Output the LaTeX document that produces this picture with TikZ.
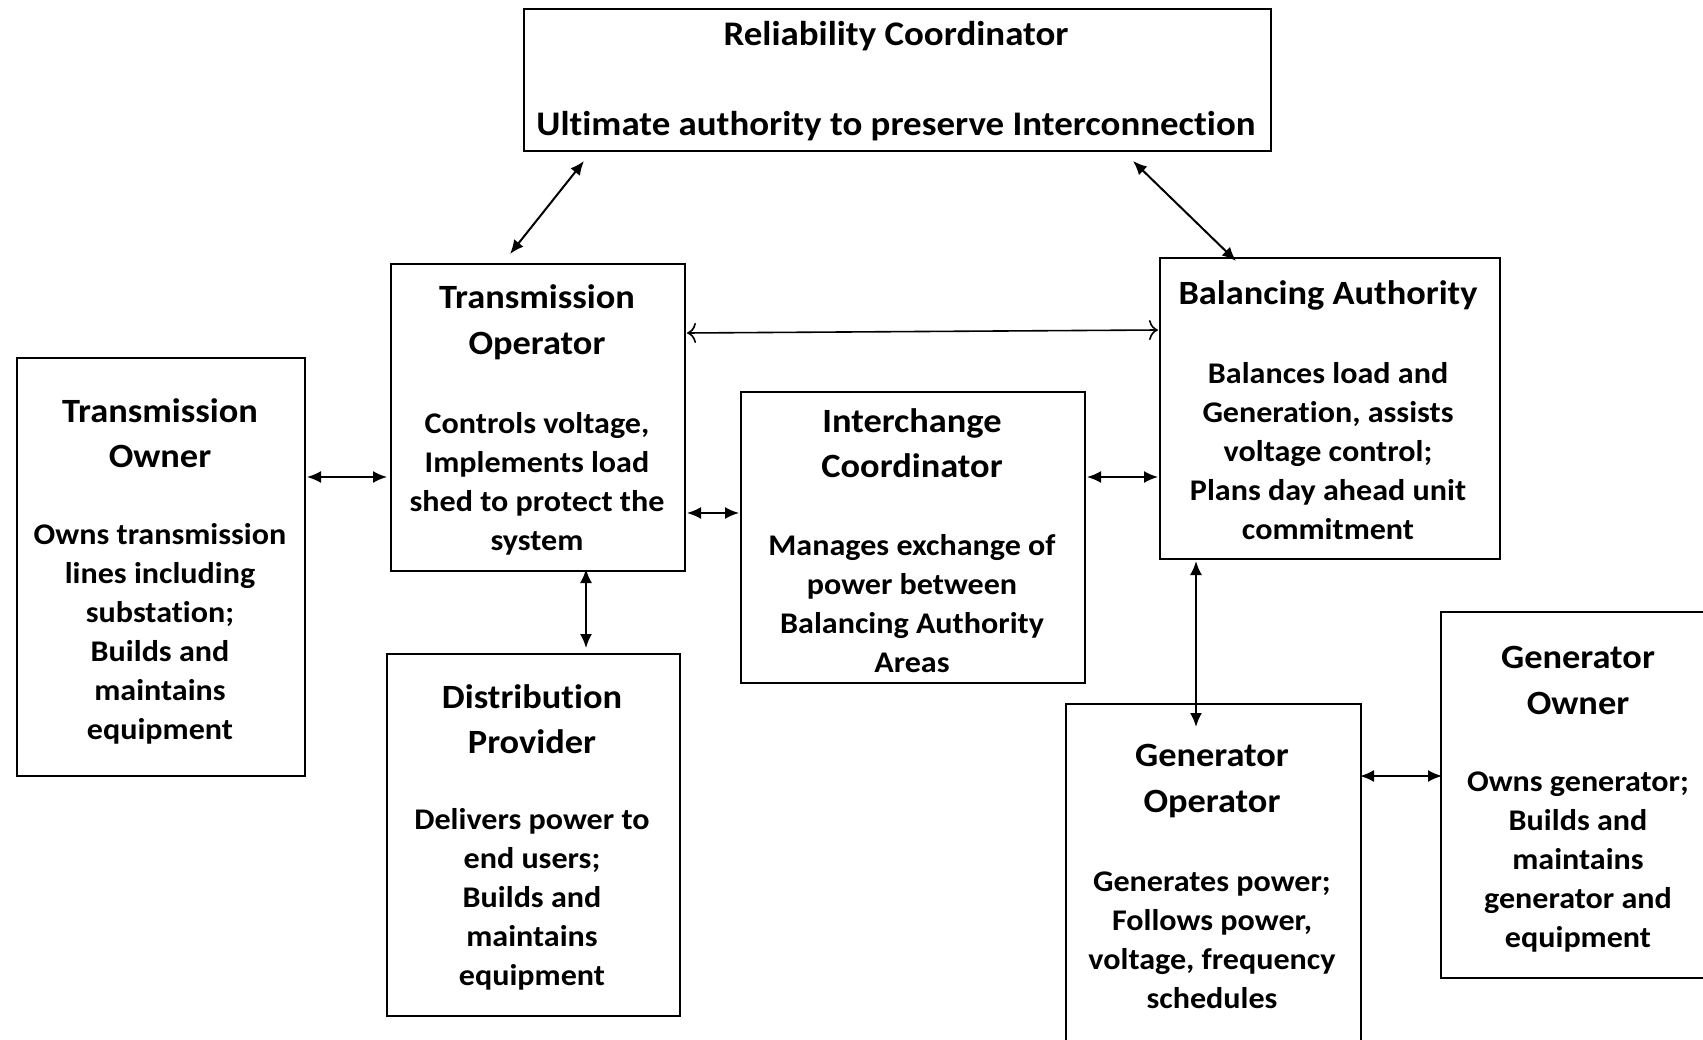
\documentclass[tikz,border=0pt]{standalone}
\usepackage{fontspec}
\setmainfont{Carlito}[FakeStretch=1.07, Ligatures=NoCommon]
\usetikzlibrary{arrows.meta}
\begin{document}
\begin{tikzpicture}[x=1pt,y=-1pt,
  box/.style={draw, line width=2pt, anchor=north west, inner sep=0pt},
  ttl/.style={font=\bfseries\fontsize{34}{45.5}\selectfont, align=center, inner sep=0pt},
  bdy/.style={font=\bfseries\fontsize{30}{39}\selectfont, align=center, inner sep=0pt},
  rct/.style={font=\bfseries\fontsize{34.5}{39}\selectfont, align=center, inner sep=0pt},
  dbl/.style={line width=2pt, {Latex[length=14pt,width=12pt]}-{Latex[length=14pt,width=12pt]}},
  opn/.style={line width=1.6pt, {To[length=9pt,width=20pt]}-{To[length=9pt,width=20pt]}}]
\path[use as bounding box, clip] (0,0) rectangle (1703,1040);
\fill[white] (0,0) rectangle (1703,1040);
% boxes
\node[box, minimum width=747pt, minimum height=142pt] (RC) at (523,8) {};
\node[box, minimum width=294pt, minimum height=307pt] (TOp) at (390,263) {};
\node[box, minimum width=288pt, minimum height=418pt] (TOw) at (16,357) {};
\node[box, minimum width=344pt, minimum height=291pt] (IC) at (740,391) {};
\node[box, minimum width=340pt, minimum height=301pt] (BA) at (1159,257) {};
\node[box, minimum width=293pt, minimum height=362pt] (DP) at (386,653) {};
\node[box, minimum width=295pt, minimum height=360pt] (GOp) at (1065,703) {};
\node[box, minimum width=290pt, minimum height=366pt] (GOw) at (1440,611) {};
% texts
\node[rct] (RCt) at (896,36) {Reliability Coordinator};
\node[rct] (RCb) at (896,126) {Ultimate authority to preserve Interconnection};
\node[ttl] (TOpt) at (537,322) {Transmission\\Operator};
\node[bdy] (TOpb) at (537,483.5) {Controls voltage,\\Implements load\\shed to protect the\\system};
\node[ttl] (TOwt) at (160,433) {Transmission\\Owner};
\node[bdy] (TOwb) at (160,634) {Owns transmission\\lines including\\substation;\\Builds and\\maintains\\equipment};
\node[ttl] (ICt) at (912,443) {Interchange\\Coordinator};
\node[bdy] (ICb) at (912,603.5) {Manages exchange of\\power between\\Balancing Authority\\Areas};
\node[ttl] (BAt) at (1328,295) {Balancing Authority};
\node[bdy] (BAb) at (1328,451) {Balances load and\\Generation, assists\\voltage control;\\Plans day ahead unit\\commitment};
\node[ttl] (DPt) at (532,719) {Distribution\\Provider};
\node[bdy] (DPb) at (532,899.5) {Delivers power to\\end users;\\Builds and\\maintains\\equipment};
\node[ttl] (GOpt) at (1212,781) {Generator\\Operator};
\node[bdy] (GOpb) at (1212,940) {Generates power;\\Follows power,\\voltage, frequency\\schedules};
\node[ttl] (GOwt) at (1578,680.5) {Generator\\Owner};
\node[bdy] (GOwb) at (1578,862) {Owns generator;\\Builds and\\maintains\\generator and\\equipment};
% connectors
\draw[dbl] ([shift={(61,9)}]RC.south west) -- ([shift={(120,-9)}]TOp.north west);
\draw[dbl] ([shift={(610,9)}]RC.south west) -- ([shift={(77,4)}]BA.north west);
\draw[opn] ([shift={(1,70)}]TOp.north east) -- ([shift={(-1,73)}]BA.north west);
\draw[dbl] ([shift={(1,120)}]TOw.north east) -- ([shift={(-3,214)}]TOp.north west);
\draw[dbl] ([shift={(1,250)}]TOp.north east) -- ([shift={(-1,122)}]IC.north west);
\draw[dbl] ([shift={(1,86)}]IC.north east) -- ([shift={(-1,220)}]BA.north west);
\draw[dbl] ([shift={(196,-3)}]TOp.south west) -- ([shift={(200,-5)}]DP.north west);
\draw[dbl] ([shift={(37,1)}]BA.south west) -- ([shift={(131,24)}]GOp.north west);
\draw[dbl] ([shift={(-2,73)}]GOp.north east) -- ([shift={(2,165)}]GOw.north west);
\end{tikzpicture}
\end{document}
